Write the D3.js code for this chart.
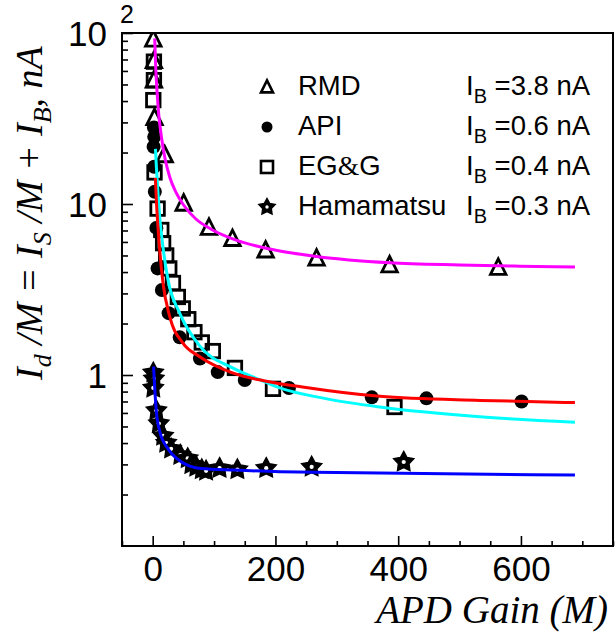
<!DOCTYPE html>
<html lang="en">
<head>
<meta charset="utf-8">
<title>APD dark current vs gain</title>
<script src="https://d3js.org/d3.v7.min.js"></script>
<style>
  body { margin: 0; background: #fff; }
  svg { display: block; }
  .axis text { font-family: "Liberation Sans", Arial, sans-serif; font-size: 35px; fill: #000; }
  .axis line { stroke: #000; stroke-width: 1.6px; }
  .legend text { font-family: "Liberation Sans", Arial, sans-serif; font-size: 27.5px; fill: #000; }
  .title { font-family: "Liberation Serif", "Times New Roman", serif; font-style: italic; fill: #000; }
</style>
</head>
<body>
<script>
// measured points: gain M and I_d/M in nA
var rmdGain = [1, 2, 2, 3, 19.6, 50.5, 91.7, 130, 184, 267, 386, 563];
var rmdVal  = [92, 69, 53, 32, 19.4, 10.1, 7.29, 6.28, 5.38, 4.82, 4.4, 4.26];

var apiGain = [2, 2.5, 1.5, 2.5, 3.5, 6, 8, 15, 26, 44, 77, 106, 150, 222, 357, 446, 601];
var apiVal  = [28, 24.7, 21.6, 16.5, 11.8, 7.25, 4.2, 3.14, 2.3, 1.66, 1.25, 1.04, 0.935, 0.84, 0.74, 0.73, 0.70];

var egGain = [2, 2, 1, 3, 8, 14, 17, 22, 27, 33, 41, 49, 58, 68, 80, 98, 134, 196, 394];
var egVal  = [68, 53, 40.5, 15.3, 9.4, 7.05, 5.9, 5.0, 4.2, 3.45, 2.86, 2.45, 2.12, 1.78, 1.55, 1.38, 1.1, 0.83, 0.65];

var hamGain = [1, 2, 1, 6, 10, 17, 22, 30, 45, 57, 63, 71, 80, 87, 109, 138, 185, 259, 409];
var hamVal  = [1.03, 0.95, 0.84, 0.62, 0.52, 0.44, 0.40, 0.37, 0.34, 0.325, 0.30, 0.29, 0.28, 0.275, 0.285, 0.28, 0.285, 0.29, 0.31];

// fitted curves, points along each line
var rmdFitGain = [3.3, 5, 7, 10, 14, 20, 28, 38, 50, 70, 96, 136, 191, 267, 386, 500, 598, 688];
var rmdFitVal  = [93, 62, 46, 33, 25, 18.5, 14.3, 11.7, 9.9, 8.2, 7.1, 6.15, 5.45, 4.93, 4.53, 4.4, 4.33, 4.28];

var apiFitGain = [4.4, 6, 8, 11.4, 16.8, 27.7, 49, 76.6, 130, 185, 244, 370, 533, 688];
var apiFitVal  = [14.2, 10.5, 7.9, 5.4, 3.45, 2.2, 1.54, 1.28, 1.03, 0.92, 0.85, 0.75, 0.71, 0.69];

var egFitGain = [4.5, 6, 8.7, 12, 16.8, 25, 44, 76.6, 130, 174, 207, 280, 370, 533, 688];
var egFitVal  = [21, 16.5, 11.5, 8, 5.6, 3.6, 2.3, 1.48, 1.1, 0.94, 0.84, 0.73, 0.65, 0.57, 0.53];

var hamFitGain = [1.5, 3.3, 6, 11.4, 25, 47, 79, 134, 207, 264, 688];
var hamFitVal  = [1.12, 0.84, 0.61, 0.47, 0.37, 0.31, 0.284, 0.278, 0.272, 0.27, 0.26];

var legendNames = ["RMD", "API", "EG&G", "Hamamatsu"];
var legendIB = ["3.8", "0.6", "0.4", "0.3"];

var xTicks = [0, 200, 400, 600];
var yTicks = [1, 10, 100];

var w = 615, h = 634;
var frame = {left: 122, top: 33, right: 613, bottom: 546};

var svg = d3.select("body").append("svg")
    .attr("width", w)
    .attr("height", h);

var x = d3.scaleLinear().domain([-50, 750]).range([frame.left, frame.right]);
var y = d3.scaleLog().domain([0.1, 100]).range([frame.bottom, frame.top]);

svg.append("clipPath").attr("id", "plotclip")
  .append("rect")
    .attr("x", frame.left).attr("y", frame.top)
    .attr("width", frame.right - frame.left)
    .attr("height", frame.bottom - frame.top);

// marker shapes
function starPath(R, r) {
  var p = [];
  for (var i = 0; i < 10; i++) {
    var a = -Math.PI / 2 + i * Math.PI / 5;
    var rad = i % 2 ? r : R;
    p.push([rad * Math.cos(a), rad * Math.sin(a)]);
  }
  return "M" + p.join("L") + "Z";
}
function triPath(s) {
  return "M0," + (-s * 0.55) + "L" + (s / 2) + "," + (s * 0.45) + "L" + (-s / 2) + "," + (s * 0.45) + "Z";
}

function drawMarker(g, kind, s, sw) {
  if (kind == "tri") {
    g.append("path").attr("d", triPath(s)).attr("fill", "none").attr("stroke", "#000").attr("stroke-width", sw);
  } else if (kind == "circ") {
    g.append("circle").attr("r", s / 2).attr("fill", "#000");
  } else if (kind == "sq") {
    g.append("rect").attr("x", -s / 2).attr("y", -s / 2).attr("width", s).attr("height", s)
      .attr("fill", "none").attr("stroke", "#000").attr("stroke-width", sw);
  } else {
    g.append("path").attr("d", starPath(s / 2, s / 3.8)).attr("fill", "#000")
      .attr("stroke", "#000").attr("stroke-width", 1.5).attr("stroke-linejoin", "miter");
    g.append("circle").attr("r", s / 10).attr("fill", "#fff");
  }
}

function plotPoints(gains, vals, kind, s) {
  var pts = gains.map(function(g, i) { return {m: g, v: vals[i]}; });
  svg.append("g").attr("clip-path", "url(#plotclip)")
    .selectAll("g")
    .data(pts)
    .join("g")
      .attr("transform", d => "translate(" + x(d.m) + "," + y(d.v) + ")")
      .each(function() { drawMarker(d3.select(this), kind, s, 2.8); });
}

var line = d3.line()
    .x(d => x(d[0]))
    .y(d => y(d[1]))
    .curve(d3.curveMonotoneX);

function plotFit(gains, vals, color) {
  svg.append("path")
    .datum(gains.map((g, i) => [g, vals[i]]))
    .attr("clip-path", "url(#plotclip)")
    .attr("d", line)
    .attr("fill", "none")
    .attr("stroke", color)
    .attr("stroke-width", 3);
}

plotPoints(rmdGain, rmdVal, "tri", 15.5);
plotPoints(egGain, egVal, "sq", 13.5);
plotPoints(apiGain, apiVal, "circ", 14);
plotPoints(hamGain, hamVal, "star", 21);

plotFit(hamFitGain, hamFitVal, "#0000ff");
plotFit(egFitGain, egFitVal, "#00ffff");
plotFit(apiFitGain, apiFitVal, "#ff0000");
plotFit(rmdFitGain, rmdFitVal, "#ff00ff");

// axes, ticks pointing into the frame
var yMinor = [];
[0.1, 1, 10].forEach(function(d) {
  for (var k = 2; k <= 9; k++) yMinor.push(k * d);
});
var xMinor = d3.range(-50, 751, 50).filter(v => xTicks.indexOf(v) < 0);

svg.append("g").attr("class", "axis")
    .attr("transform", "translate(" + frame.left + ",0)")
    .call(d3.axisLeft(y).tickValues(yMinor).tickSize(-6).tickSizeOuter(0).tickFormat(""))
    .call(g => g.select(".domain").remove());

var yAxis = svg.append("g").attr("class", "axis")
    .attr("transform", "translate(" + frame.left + ",0)")
    .call(d3.axisLeft(y).tickValues(yTicks).tickSize(-11).tickSizeOuter(0).tickPadding(15)
      .tickFormat(d => d == 100 ? "10" : d3.format("d")(d)))
    .call(g => g.select(".domain").remove());
yAxis.selectAll("text").attr("dy", "0.36em");
yAxis.selectAll(".tick").filter(d => d == 100).append("text")
    .attr("x", -2).attr("y", -11)
    .attr("text-anchor", "start")
    .style("font-size", "25px")
    .text("2");

svg.append("g").attr("class", "axis")
    .attr("transform", "translate(0," + frame.bottom + ")")
    .call(d3.axisBottom(x).tickValues(xMinor).tickSize(-5).tickSizeOuter(0).tickFormat(""))
    .call(g => g.select(".domain").remove());

svg.append("g").attr("class", "axis")
    .attr("transform", "translate(0," + frame.bottom + ")")
    .call(d3.axisBottom(x).tickValues(xTicks).tickSize(-10).tickSizeOuter(0).tickPadding(10))
    .call(g => g.select(".domain").remove());

svg.append("rect")
    .attr("x", frame.left).attr("y", frame.top)
    .attr("width", frame.right - frame.left)
    .attr("height", frame.bottom - frame.top)
    .attr("fill", "none")
    .attr("stroke", "#000")
    .attr("stroke-width", 2);

// text with sub/superscripts: parts are [string, shift]
function richText(sel, parts, subSize) {
  var shift = 0;
  parts.forEach(function(p) {
    var target = p[1] || 0;
    var t = sel.append("tspan").text(p[0]).attr("dy", (target - shift) + "px");
    if (target != 0) t.style("font-size", subSize);
    shift = target;
  });
}

// legend
var kinds = ["tri", "circ", "sq", "star"];
var legend = svg.append("g").attr("class", "legend");
legendNames.forEach(function(name, i) {
  var yy = 95 + i * 40;
  var mk = legend.append("g").attr("transform", "translate(267," + (yy - 8) + ")");
  drawMarker(mk, kinds[i], kinds[i] == "star" ? 17 : (kinds[i] == "circ" ? 11 : 12), 2.6);
  var t = legend.append("text").attr("x", 298).attr("y", yy);
  if (name == "EG&G") {
    t.append("tspan").text("EG");
    t.append("tspan").text("&").style("font-family", "'Liberation Serif', serif");
    t.append("tspan").text("G");
  } else {
    t.text(name);
  }
  var ib = legend.append("text").attr("x", 466).attr("y", yy);
  richText(ib, [["I", 0], ["B", 8], [" =" + legendIB[i] + " nA", 0]], "20px");
});

// axis titles
var yTitle = svg.append("text")
    .attr("class", "title")
    .attr("transform", "translate(42,380) rotate(-90)")
    .style("font-size", "38px");
richText(yTitle, [["I", 0], ["d", 9], [" /M = I", 0], ["S", 9], [" /M + I", 0], ["B", 9], [", nA", 0]], "26px");

svg.append("text")
    .attr("class", "title")
    .attr("x", 608).attr("y", 623)
    .attr("text-anchor", "end")
    .style("font-size", "39px")
    .text("APD Gain (M)");
</script>
</body>
</html>
